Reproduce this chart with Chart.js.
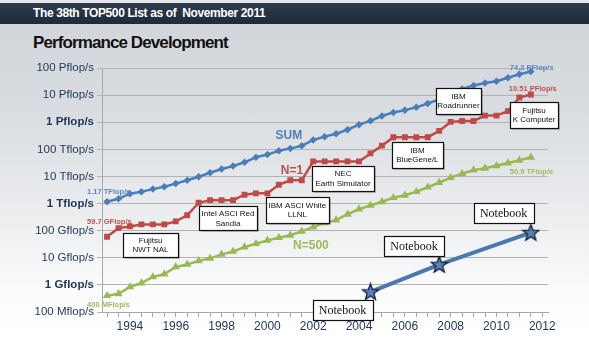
<!DOCTYPE html>
<html><head><meta charset="utf-8">
<script src="https://cdn.jsdelivr.net/npm/chart.js@4/dist/chart.umd.min.js"></script>
<style>
html,body{margin:0;padding:0;}
body{width:589px;height:353px;overflow:hidden;position:relative;
background:linear-gradient(to bottom,#e4e6e9 0px,#e4e6e9 3px,#d2d6db 24px,#d9dce0 110px,#eceef0 220px,#fbfbfc 290px,#ffffff 330px);
font-family:'Liberation Sans',Arial,sans-serif;}
#band{position:absolute;left:0;top:3px;width:589px;height:21px;background:linear-gradient(#2d3c4e,#1e2a38);}
#band span{position:absolute;left:33px;top:3px;color:#fff;font-weight:bold;font-size:12px;letter-spacing:-0.38px;white-space:pre;}
#title{position:absolute;left:33px;top:33px;font-weight:bold;font-size:17px;letter-spacing:-0.9px;color:#111;white-space:pre;}
#c{position:absolute;left:0;top:0;}
</style></head>
<body>
<div id="band"><span>The 38th TOP500 List as of  November 2011</span></div>
<div id="title">Performance Development</div>
<canvas id="c" width="589" height="353"></canvas>
<script>
// ---- DATA (values in Gflop/s) ----
const listDates = [1993.0,1993.5,1994.0,1994.5,1995.0,1995.5,1996.0,1996.5,1997.0,1997.5,
  1998.0,1998.5,1999.0,1999.5,2000.0,2000.5,2001.0,2001.5,2002.0,2002.5,
  2003.0,2003.5,2004.0,2004.5,2005.0,2005.5,2006.0,2006.5,2007.0,2007.5,
  2008.0,2008.5,2009.0,2009.5,2010.0,2010.5,2011.0,2011.5];
const sumValues = [1170,1493,2317,2732,3414,4195,5451,7222,9794,13720,
  18790,24070,33260,50870,64110,88740,108300,134400,222200,293600,
  374900,528100,813100,1127000,1690000,2300000,2791000,3540000,4920000,6970000,
  11700000,16950000,22600000,27950000,32400000,43700000,58900000,74200000];
const n1Values = [59.7,124,143.4,170,170,170,220.4,368.2,1068,1338,
  1338,1338,2121,2379,2379,4938,7226,7226,35860,35860,
  35860,35860,35860,70720,136800,280600,280600,280600,280600,478200,
  1026000,1105000,1105000,1759000,1759000,2566000,8162000,10510000];
const n500Values = [0.4,0.47,0.84,1.17,1.96,2.49,4.6,5.69,7.67,9.51,
  13.4,17.1,24.7,33.1,43.8,55.1,67.8,94.3,134.3,195.8,
  245.1,403.4,624,850.6,1166,1646,2026,2737,4005,5929,
  9000,12640,17090,20050,24670,31120,39130,50900];
const notebookDates = [2004.5,2007.5,2011.5];
const notebookValues = [0.55,5.6,85];
const seriesNames = ['SUM','N=1','N=500','Notebook'];
const yTickValues = [0.1,1,10,100,1e3,1e4,1e5,1e6,1e7,1e8];
const yTickLabels = ['100 Mflop/s','1 Gflop/s','10 Gflop/s','100 Gflop/s','1 Tflop/s','10 Tflop/s','100 Tflop/s','1 Pflop/s','10 Pflop/s','100 Pflop/s'];
const xTickLabels = [1994,1996,1998,2000,2002,2004,2006,2008,2010,2012];
const startLabels = ['1.17 TFlop/s','59.7 GFlop/s','400 MFlop/s'];
const endLabels = ['74.2 PFlop/s','10.51 PFlop/s','50.9 TFlop/s'];
const systemNames = [['Fujitsu','NWT NAL'],['Intel ASCI Red','Sandia'],['IBM ASCI White','LLNL'],['NEC','Earth Simulator'],['IBM','BlueGene/L'],['IBM','Roadrunner'],['Fujitsu','K Computer']];

// ---- layout / style (not data) ----
const BLUE='#4a7ebb', RED='#be4b48', GREEN='#98b954';
const callouts = [
  {x:1994.90,y:29.5,w:55,h:24},{x:1998.28,y:292,w:58,h:24},{x:2001.31,y:601,w:63,h:26},
  {x:2003.30,y:8370,w:62,h:25},{x:2006.55,y:61600,w:51,h:26},{x:2008.34,y:6.06e6,w:45,h:26},
  {x:2011.64,y:1.84e6,w:48,h:26}];
const notebookBoxes = [{x:2003.28,y:0.117,w:60,h:20},{x:2006.40,y:27,w:60,h:20},{x:2010.31,y:446,w:60,h:20}];
const seriesTitlePos = [{x:2000.94,y:3.1e5,c:'#4f81bd'},{x:2001.07,y:1.62e4,c:'#c0504d'},{x:2001.9,y:27.7,c:'#9bbb59'}];
const startOff=[{dx:-20,dy:-10,c:'#5b87c0'},{dx:-20,dy:-15,c:'#c0504d'},{dx:-20,dy:9,c:'#9bbb59'}];
const endOff=[{dx:-21,dy:-4,c:'#5b87c0'},{dx:-22,dy:-5.5,c:'#c0504d'},{dx:-21,dy:14.5,c:'#9bbb59'}];

const pts = (xs,ys)=>ys.map((v,i)=>({x:xs[i],y:v}));

// star marker image
const star=document.createElement('canvas'); star.width=19; star.height=19;
(function(){const g=star.getContext('2d');g.beginPath();
 for(let i=0;i<10;i++){const r=i%2?3.6:8.6;const a=-Math.PI/2+i*Math.PI/5;
  const px=9.5+r*Math.cos(a), py=10+r*Math.sin(a); i?g.lineTo(px,py):g.moveTo(px,py);}
 g.closePath();g.fillStyle='#5a82b8';g.fill();g.lineWidth=1.3;g.strokeStyle='#14203a';g.stroke();})();

const decor={id:'decor',afterDatasetsDraw(chart){
  const ctx=chart.ctx, xs=chart.scales.x, ys=chart.scales.y;
  const P=(x,y)=>[xs.getPixelForValue(x),ys.getPixelForValue(y)];
  ctx.save();
  callouts.forEach((b,i)=>{const [cx,cy]=P(b.x,b.y);
    const x=Math.round(cx-b.w/2)+0.5,y=Math.round(cy-b.h/2)+0.5;
    ctx.fillStyle='rgba(0,0,0,0.22)';ctx.fillRect(x+1.5,y+1.5,b.w,b.h);
    ctx.fillStyle='#fff';ctx.fillRect(x,y,b.w,b.h);
    ctx.strokeStyle='#111';ctx.lineWidth=1.2;ctx.strokeRect(x,y,b.w,b.h);
    ctx.fillStyle='#111';ctx.font='8px "Liberation Sans", Arial, sans-serif';ctx.textAlign='center';ctx.textBaseline='middle';
    const L=systemNames[i];L.forEach((t,k)=>ctx.fillText(t,cx,cy+(k-(L.length-1)/2)*9.5+0.5));});
  notebookBoxes.forEach(b=>{const [cx,cy]=P(b.x,b.y);
    const x=Math.round(cx-b.w/2)+0.5,y=Math.round(cy-b.h/2)+0.5;
    ctx.fillStyle='#fff';ctx.fillRect(x,y,b.w,b.h);
    ctx.strokeStyle='#111';ctx.lineWidth=1.2;ctx.strokeRect(x,y,b.w,b.h);
    ctx.fillStyle='#111';ctx.font='12px "Liberation Serif", "Times New Roman", serif';ctx.textAlign='center';ctx.textBaseline='middle';
    ctx.fillText(seriesNames[3],cx,cy+0.5);});
  seriesTitlePos.forEach((s,i)=>{const [cx,cy]=P(s.x,s.y);
    ctx.fillStyle=s.c;ctx.font='bold 12px "Liberation Sans", Arial, sans-serif';ctx.textAlign='center';ctx.textBaseline='middle';
    ctx.fillText(seriesNames[i],cx,cy);});
  const series=[sumValues,n1Values,n500Values];
  ctx.font='bold 7.5px "Liberation Sans", Arial, sans-serif';ctx.textAlign='left';ctx.textBaseline='middle';
  series.forEach((arr,i)=>{
    let [px,py]=P(listDates[0],arr[0]);ctx.fillStyle=startOff[i].c;ctx.fillText(startLabels[i],px+startOff[i].dx,py+startOff[i].dy);
    const n=arr.length-1;[px,py]=P(listDates[n],arr[n]);ctx.fillStyle=endOff[i].c;ctx.fillText(endLabels[i],px+endOff[i].dx,py+endOff[i].dy);});
  ctx.restore();}};

new Chart(document.getElementById('c'),{
  type:'line',
  data:{datasets:[
    {label:seriesNames[0],data:pts(listDates,sumValues),borderColor:BLUE,backgroundColor:BLUE,borderWidth:2.5,pointStyle:'rectRot',pointRadius:2,tension:0},
    {label:seriesNames[1],data:pts(listDates,n1Values),borderColor:RED,backgroundColor:RED,borderWidth:2.5,pointStyle:'rect',pointRadius:2.4,tension:0},
    {label:seriesNames[2],data:pts(listDates,n500Values),borderColor:GREEN,backgroundColor:GREEN,borderWidth:2.5,pointStyle:'triangle',pointRadius:2.3,tension:0},
    {label:seriesNames[3],data:pts(notebookDates,notebookValues),borderColor:'#4a78b0',backgroundColor:'#5a82b8',borderWidth:4,pointStyle:star,pointRadius:9,tension:0}
  ]},
  options:{
    responsive:false,animation:false,devicePixelRatio:1,
    layout:{padding:{left:0,top:68,right:41,bottom:0}},
    plugins:{legend:{display:false},tooltip:{enabled:false}},
    scales:{
      x:{type:'linear',min:1992.78,max:2012.25,
        afterBuildTicks:s=>{const t=[];for(let v=1993;v<=2012.001;v+=0.5)t.push({value:v});s.ticks=t;},
        afterFit:s=>{s.height=41;},
        ticks:{autoSkip:false,maxRotation:0,padding:2,color:'#22395a',
          font:{size:12,family:'"Liberation Sans Narrow","Liberation Sans",Arial,sans-serif'},
          callback:v=>xTickLabels.includes(v)?String(v):''},
        grid:{drawOnChartArea:false,drawTicks:true,tickLength:5,color:'#a8a8a8'},
        border:{color:'#a8a8a8'}},
      y:{type:'logarithmic',min:0.1,max:1e8,
        afterBuildTicks:s=>{s.ticks=yTickValues.map(v=>({value:v}));},
        afterFit:s=>{s.width=102;},
        ticks:{padding:3,color:'#1f3658',autoSkip:false,
          font:ctx=>({size:11.5,family:'"Liberation Sans",Arial,sans-serif',weight:(ctx.tick&&[1,1e3,1e6].includes(ctx.tick.value))?'bold':'normal'}),
          callback:v=>{const i=yTickValues.findIndex(t=>Math.abs(Math.log10(t)-Math.log10(v))<1e-6);return i>=0?yTickLabels[i]:'';}},
        grid:{color:'#b3b3b3',tickLength:5,lineWidth:1},
        border:{color:'#a8a8a8'}}
    }
  },
  plugins:[decor]
});
</script>
</body></html>
